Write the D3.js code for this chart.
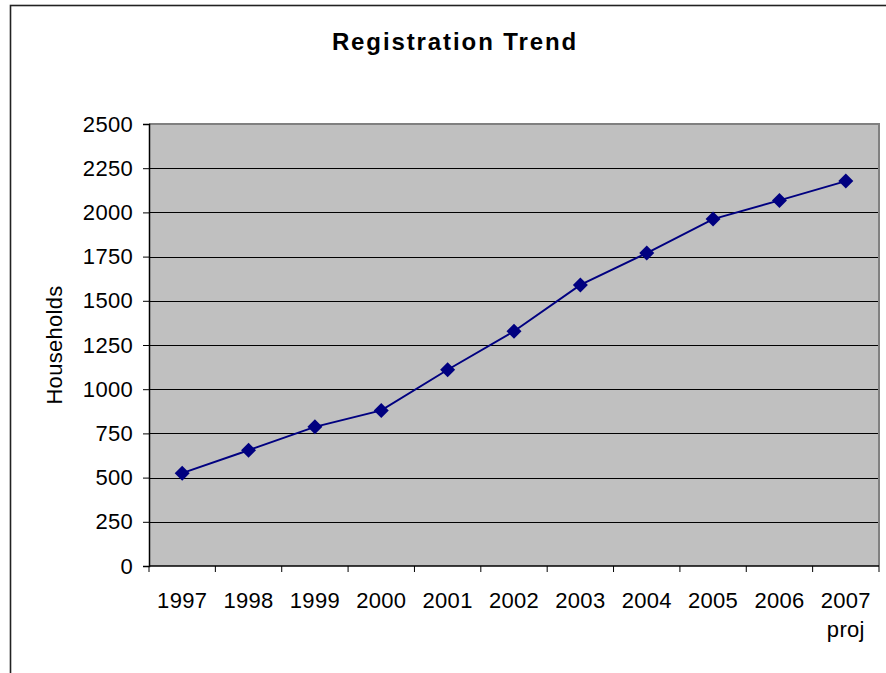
<!DOCTYPE html>
<html>
<head>
<meta charset="utf-8">
<script src="https://cdn.jsdelivr.net/npm/d3@7"></script>
<style>
  html, body { margin: 0; padding: 0; background: #fff; }
  svg { display: block; }
  text { font-family: "Liberation Sans", Arial, sans-serif; fill: #000; }
</style>
</head>
<body>
<script>
const categories = ["1997", "1998", "1999", "2000", "2001", "2002", "2003", "2004", "2005", "2006", "2007"];
const categorySubLabels = ["", "", "", "", "", "", "", "", "", "", "proj"];
const households = [525, 655, 787, 880, 1110, 1328, 1590, 1770, 1962, 2068, 2177];
const yTicks = [0, 250, 500, 750, 1000, 1250, 1500, 1750, 2000, 2250, 2500];
const titleText = "Registration Trend";
const yLabel = "Households";

const W = 886, H = 673;
const m = { left: 149, right: 879, top: 124, bottom: 566 };

const svg = d3.select("body").append("svg").attr("width", W).attr("height", H);

// outer chart border
svg.append("rect").attr("x", 10.5).attr("y", 5.5).attr("width", 900).attr("height", 700)
  .attr("fill", "#fff").attr("stroke", "#222").attr("stroke-width", 1.6);

const x = d3.scaleBand().domain(categories).range([m.left, m.right]).padding(0);
const y = d3.scaleLinear().domain([0, 2500]).range([m.bottom, m.top]);

// plot area
svg.append("rect").attr("x", m.left).attr("y", m.top)
  .attr("width", m.right - m.left).attr("height", m.bottom - m.top)
  .attr("fill", "#c0c0c0");

// gridlines
svg.append("g").selectAll("line").data(yTicks.filter(d => d > 0 && d < 2500)).join("line")
  .attr("x1", m.left).attr("x2", m.right)
  .attr("y1", d => Math.round(y(d)) + 0.5).attr("y2", d => Math.round(y(d)) + 0.5)
  .attr("stroke", "#000").attr("stroke-width", 1);

// plot border top/right gray
svg.append("path")
  .attr("d", `M${m.left},${m.top} H${m.right} V${m.bottom}`)
  .attr("fill", "none").attr("stroke", "#808080").attr("stroke-width", 2);

// y axis
const yAxis = d3.axisLeft(y).tickValues(yTicks).tickSize(6).tickPadding(10).tickFormat(d3.format("d"));
const gy = svg.append("g").attr("transform", `translate(${m.left},0)`).call(yAxis);
gy.select(".domain").attr("stroke", "#000").attr("stroke-width", 1.5);
gy.selectAll(".tick line").attr("stroke", "#000");
gy.selectAll(".tick text").attr("font-size", 22).attr("font-family", "'Liberation Sans', Arial, sans-serif")
  .attr("fill", "#000").attr("letter-spacing", 0.3);

// x axis: line and boundary ticks
const bounds = categories.map(c => x(c)).concat([m.right]);
svg.append("line").attr("x1", m.left).attr("x2", m.right)
  .attr("y1", m.bottom).attr("y2", m.bottom).attr("stroke", "#000").attr("stroke-width", 1.5);
svg.append("g").selectAll("line").data(bounds).join("line")
  .attr("x1", d => d).attr("x2", d => d)
  .attr("y1", m.bottom).attr("y2", m.bottom + 6)
  .attr("stroke", "#000").attr("stroke-width", 1);

svg.append("g").selectAll("text").data(categories).join("text")
  .attr("x", d => x(d) + x.bandwidth() / 2)
  .attr("y", 608)
  .attr("text-anchor", "middle")
  .attr("font-size", 22).attr("letter-spacing", 0.3)
  .text(d => d);
svg.append("g").selectAll("text").data(categories.map((c, i) => ({c, s: categorySubLabels[i]})).filter(d => d.s))
  .join("text")
  .attr("x", d => x(d.c) + x.bandwidth() / 2)
  .attr("y", 637)
  .attr("text-anchor", "middle")
  .attr("font-size", 22).attr("letter-spacing", 0.3)
  .text(d => d.s);

// line
const pts = categories.map((c, i) => [x(c) + x.bandwidth() / 2, y(households[i])]);
svg.append("path").datum(pts)
  .attr("d", d3.line())
  .attr("fill", "none").attr("stroke", "#000080").attr("stroke-width", 2);

svg.append("g").selectAll("path").data(pts).join("path")
  .attr("d", d => `M${d[0]},${d[1] - 7.5} L${d[0] + 7.5},${d[1]} L${d[0]},${d[1] + 7.5} L${d[0] - 7.5},${d[1]} Z`)
  .attr("fill", "#000080");

// title
svg.append("text").attr("x", 455).attr("y", 50).attr("text-anchor", "middle")
  .attr("font-size", 24).attr("font-weight", "bold").attr("letter-spacing", 1.9)
  .text(titleText);

// y label
svg.append("text").attr("transform", `translate(62,345) rotate(-90)`)
  .attr("text-anchor", "middle").attr("font-size", 22).attr("letter-spacing", 0.3)
  .text(yLabel);
</script>
</body>
</html>
